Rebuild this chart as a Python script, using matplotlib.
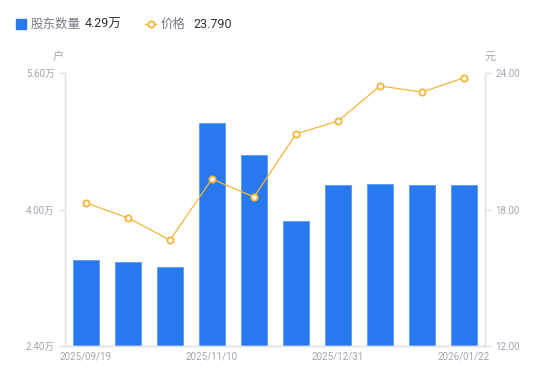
import numpy as np
import matplotlib
matplotlib.use("Agg")
import matplotlib.pyplot as plt
from matplotlib.lines import Line2D
from matplotlib.patches import Rectangle

plt.rcParams['font.family'] = ['Roboto', 'Noto Sans CJK SC', 'DejaVu Sans']

# data
tick_labels = ["2025/09/19", "", "", "2025/11/10", "", "", "2025/12/31", "", "", "2026/01/22"]
holders = [3.41, 3.385, 3.33, 5.01, 4.64, 3.87, 4.29, 4.30, 4.29, 4.29]   # 万户
price = [18.29, 17.63, 16.66, 19.34, 18.55, 21.32, 21.89, 23.43, 23.16, 23.79]  # 元

blue = "#2878f0"
orange = "#f7b538"
axis_c = "#e3e3ea"
lab_c = "#a3a3b5"

fig = plt.figure(figsize=(5.5, 3.81), dpi=100)
ax = fig.add_axes([65/550, 35/381, 420/550, 273/381])
ax2 = ax.twinx()

x = np.arange(len(holders))
ax.bar(x, holders, width=0.6, color=blue, edgecolor="#5b9bf7", linewidth=0.6, zorder=2)
ax.set_xlim(-0.5, len(holders) - 0.5)
ax.set_ylim(2.4, 5.6)
ax.set_yticks([2.4, 4.0, 5.6])
ax.set_yticklabels(["2.40万", "4.00万", "5.60万"])
ax.set_xticks(x)
ax.set_xticklabels(tick_labels)

ax2.plot(x, price, color=orange, lw=0.9, marker="o", ms=4.5, mfc="white",
         mec=orange, mew=1.3, zorder=3)
ax2.set_ylim(12, 24)
ax2.set_yticks([12, 18, 24])
ax2.set_yticklabels(["12.00", "18.00", "24.00"])

for a in (ax, ax2):
    for s in a.spines.values():
        s.set_color(axis_c)
        s.set_linewidth(1)
    a.spines["top"].set_visible(False)
    a.tick_params(colors=axis_c, labelcolor=lab_c, labelsize=7, length=4, width=1)
ax.tick_params(axis="x", length=0, pad=4)
ax.set_zorder(ax2.get_zorder() - 1)
ax.patch.set_visible(False)
ax2.patch.set_visible(False)

# units
fig.text(58/550, 1 - 57/381, "户", color=lab_c, fontsize=8, ha="center", va="center")
fig.text(490/550, 1 - 57/381, "元", color=lab_c, fontsize=8, ha="center", va="center")

# legend
fig.patches.append(Rectangle((16/550, 1 - 29/381), 10/550, 10/381, transform=fig.transFigure,
                             color=blue, figure=fig))
fig.text(31/550, 1 - 24/381, "股东数量", color="#7a7a8a", fontsize=9, va="center")
fig.text(85/550, 1 - 24/381, "4.29万", color="#333340", fontsize=9, va="center")
fig.lines.append(Line2D([145/550, 156/550], [1 - 24/381] * 2, transform=fig.transFigure,
                        color=orange, lw=1, marker="o", markevery=[0], ms=0, figure=fig))
fig.lines.append(Line2D([150.5/550], [1 - 24/381], transform=fig.transFigure, color=orange,
                        marker="o", ms=4.5, mfc="white", mew=1.3, figure=fig))
fig.text(161/550, 1 - 24/381, "价格", color="#7a7a8a", fontsize=9, va="center")
fig.text(193/550, 1 - 24/381, "23.790", color="#333340", fontsize=9, va="center")

fig.savefig("out.png", dpi=100)
